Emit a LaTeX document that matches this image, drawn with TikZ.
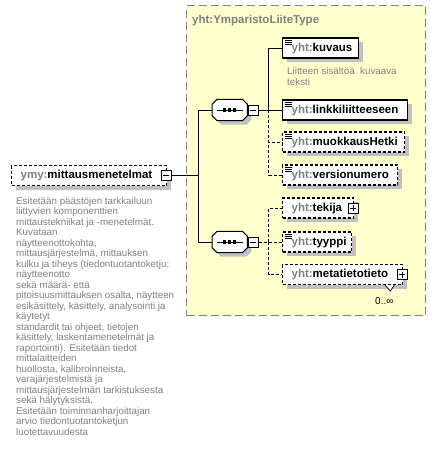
\documentclass[tikz,border=0pt]{standalone}
\usepackage{fontspec}
\setmainfont{Liberation Sans}
\usepackage{tikz}
\usepackage{xcolor}
\usetikzlibrary{
    shapes,
    shapes.misc,
    shadows
}

\definecolor{typefill}{HTML}{FFFFCC}
\definecolor{framegray}{HTML}{808080}
\definecolor{prefixgray}{HTML}{808080}
\definecolor{notegray}{HTML}{808080}
\definecolor{shadowgray}{HTML}{C0C0C0}

\begin{document}
\begin{tikzpicture}[x=1pt, y=-1pt,
    typebox/.style={draw=framegray, line width=1.3pt, dash pattern=on 8pt off 4pt, fill=typefill},
    elem/.style={draw, line width=1.3pt, fill=white, rectangle, anchor=west,
        minimum height=20pt, inner xsep=9pt, inner ysep=0pt,
        text height=8.5pt, text depth=2.5pt, align=left,
        font=\fontsize{11.5}{12}\selectfont\bfseries,
        general shadow={fill=shadowgray, shadow xshift=4pt, shadow yshift=-4pt}},
    optelem/.style={elem, dash pattern=on 3pt off 2pt},
    docicon/.style={path picture={
        \foreach \k in {2,4,6}
            \draw[solid, line width=0.7pt] ([shift={(2pt,-\k pt)}]path picture bounding box.north west) -- ++(7pt,0);}},
    pmbox/.style={draw, solid, fill=white, line width=0.8pt, rectangle, minimum size=10pt, inner sep=0pt},
    minusbox/.style={pmbox, path picture={
        \draw[line width=0.8pt] ([xshift=2pt]path picture bounding box.west) -- ([xshift=-2pt]path picture bounding box.east);}},
    plusbox/.style={pmbox, path picture={
        \draw[line width=0.8pt] ([xshift=2pt]path picture bounding box.west) -- ([xshift=-2pt]path picture bounding box.east)
            ([yshift=2pt]path picture bounding box.south) -- ([yshift=-2pt]path picture bounding box.north);}},
    seqanchor/.style={rectangle, minimum width=35pt, minimum height=21pt, inner sep=0pt, anchor=west},
    seqoct/.style={draw, line width=1pt, fill=white,
        general shadow={fill=shadowgray, shadow xshift=4pt, shadow yshift=-4pt}},
    conn/.style={line width=1pt},
    optconn/.style={conn, dash pattern=on 3pt off 2pt},
    note/.style={anchor=north west, inner sep=0pt, align=left, text=notegray, font=\fontsize{9.8}{10.5}\selectfont}
]
\fill[white] (0,0) rectangle (435,451);
\useasboundingbox (0,0) rectangle (435,451);

\node[typebox, anchor=north west, minimum width=239pt, minimum height=310pt] (liitetype) at (186,5) {};
\node[anchor=base west, inner sep=0pt, text=prefixgray, font=\fontsize{11.5}{12}\selectfont\bfseries] (liitetitle) at (192,23.5) {yht:YmparistoLiiteType};

\node[optelem, text width=137pt] (ymy) at (11,175.5) {\textcolor{prefixgray}{ymy:}mittausmenetelmat};
\node[minusbox] (ymyminus) at ([xshift=-1pt]ymy.east) {};
\node[note] (ymynote) at (16,197) {Esitetään päästöjen tarkkailuun\\
    liittyvien komponenttien\\
    mittaustekniikat ja -menetelmät.\\
    Kuvataan\\
    näytteenottokohta,\\
    mittausjärjestelmä, mittauksen\\
    kulku ja tiheys (tiedontuotantoketju:\\
    näytteenotto\\
    sekä määrä- että\\
    pitoisuusmittauksen osalta, näytteen\\
    esikäsittely, käsittely, analysointi ja\\
    käytetyt\\
    standardit tai ohjeet, tietojen\\
    käsittely, laskentamenetelmät ja\\
    raportointi). Esitetään tiedot\\
    mittalaitteiden\\
    huollosta, kalibroinneista,\\
    varajärjestelmistä ja\\
    mittausjärjestelmän tarkistuksesta\\
    sekä hälytyksistä.\\
    Esitetään toiminnanharjoittajan\\
    arvio tiedontuotantoketjun\\
    luotettavuudesta};

\node[seqanchor] (seq1) at (212,110) {};
\node[seqanchor] (seq2) at (212,242) {};
\foreach \s in {seq1,seq2} {
    \filldraw[seqoct] ([xshift=5pt]\s.north west) -- ([xshift=-5pt]\s.north east) -- ([yshift=-5pt]\s.north east)
        -- ([yshift=5pt]\s.south east) -- ([xshift=-5pt]\s.south east) -- ([xshift=5pt]\s.south west)
        -- ([yshift=5pt]\s.south west) -- ([yshift=-5pt]\s.north west) -- cycle;
    \draw[conn] ([xshift=-13pt]\s.center) -- ([xshift=13pt]\s.center);
    \foreach \d in {-5,0,5}
        \fill ([xshift=\d pt]\s.center) +(-1.6,-1.6) rectangle +(1.6,1.6);
}
\node[minusbox, anchor=west] (seq1minus) at ([xshift=0.5pt]seq1.east) {};
\node[minusbox, anchor=west] (seq2minus) at ([xshift=0.5pt]seq2.east) {};

\node[elem, docicon, text width=58pt] (kuvaus) at (282,48) {\textcolor{prefixgray}{yht:}kuvaus};
\node[note] (kuvausnote) at (287,67.3) {Liitteen sisältöä\ \ kuvaava\\teksti};
\node[elem, docicon, text width=107pt] (linkki) at (282,110) {\textcolor{prefixgray}{yht:}linkkiliitteeseen};
\node[optelem, docicon, text width=104pt] (muokkaus) at (282,142) {\textcolor{prefixgray}{yht:}muokkausHetki};
\node[optelem, docicon, text width=97pt] (versio) at (282,175) {\textcolor{prefixgray}{yht:}versionumero};

\node[optelem, text width=53pt] (tekija) at (282,208) {\textcolor{prefixgray}{yht:}tekija};
\node[plusbox] (tekijaplus) at ([xshift=-1pt]tekija.east) {};
\node[optelem, docicon, text width=51pt] (tyyppi) at (282,242) {\textcolor{prefixgray}{yht:}tyyppi};
\node[optelem, text width=102pt] (meta) at (282,274.5) {\textcolor{prefixgray}{yht:}metatietotieto};
\node[plusbox] (metaplus) at ([xshift=-1pt]meta.east) {};
\draw[line width=0.7pt, fill=white] ([xshift=-18pt]meta.south east) -- ++(5,6) -- ++(4,-6);
\node[anchor=base west, inner sep=0pt, font=\fontsize{10}{12}\selectfont] (metamult) at (375,304) {0..∞};

\draw[conn] (seq1.west) -- ++(-14,0) |- (ymyminus.east);
\draw[conn] (seq2.west) -- ++(-14,0) |- (ymyminus.east);

\draw[conn] (seq1minus.east) -- ++(10,0) |- (kuvaus.west);
\draw[conn] (seq1minus.east) -- (linkki.west);
\draw[optconn] (seq1minus.east) -- ++(10,0) |- (muokkaus.west);
\draw[optconn] (seq1minus.east) -- ++(10,0) |- (versio.west);

\draw[optconn] (seq2minus.east) -- ++(10,0) |- (tekija.west);
\draw[optconn] (seq2minus.east) -- (tyyppi.west);
\draw[optconn] (seq2minus.east) -- ++(10,0) |- (meta.west);
\end{tikzpicture}
\end{document}
